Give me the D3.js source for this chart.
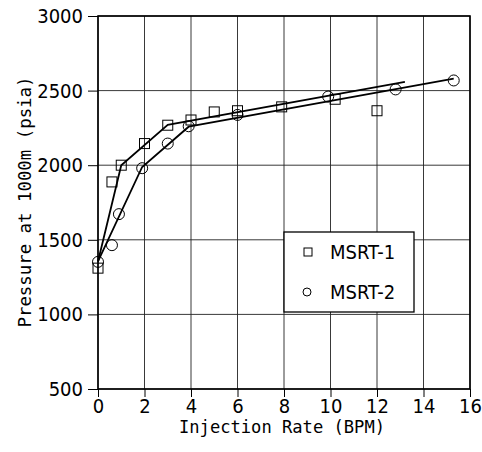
<!DOCTYPE html>
<html>
<head>
<meta charset="utf-8">
<script src="https://cdn.jsdelivr.net/npm/d3@7"></script>
<style>
  html, body { margin: 0; padding: 0; background: #fff; }
  svg { display: block; }
</style>
</head>
<body>
<svg id="chart" width="482" height="452"></svg>
<script>
// Injection rate (BPM) vs. pressure at 1000 m (psia)
const xTicks = [0, 2, 4, 6, 8, 10, 12, 14, 16];
const yTicks = [500, 1000, 1500, 2000, 2500, 3000];

// MSRT-1 measurements
const msrt1Rate     = [0, 0.6, 1.0, 2.0, 3.0, 4.0, 5.0, 6.0, 7.9, 10.2, 12.0];
const msrt1Pressure = [1310, 1888, 2000, 2145, 2268, 2303, 2357, 2365, 2391, 2442, 2365];
// MSRT-2 measurements
const msrt2Rate     = [0, 0.6, 0.9, 1.9, 3.0, 3.9, 6.0, 9.9, 12.8, 15.3];
const msrt2Pressure = [1352, 1464, 1672, 1980, 2145, 2261, 2337, 2460, 2508, 2568];

// Piecewise-linear trend lines
const trend1Rate     = [0, 1.0, 3.0, 13.2];
const trend1Pressure = [1355, 2000, 2270, 2558];
const trend2Rate     = [0, 1.9, 3.9, 15.3];
const trend2Pressure = [1355, 1988, 2258, 2580];

const legendLabels = ["MSRT-1", "MSRT-2"];

const svg = d3.select("#chart");
const margin = { left: 98, right: 12, top: 16, bottom: 63 };
const W = 482, H = 452;

const x = d3.scaleLinear().domain([0, 16]).range([margin.left, W - margin.right]);
const y = d3.scaleLinear().domain([500, 3000]).range([H - margin.bottom, margin.top]);

const tickFont = "'Liberation Sans Narrow', 'DejaVu Sans Condensed', 'Arial Narrow', sans-serif";
const titleFont = "'DejaVu Sans Mono', 'Liberation Mono', monospace";

// Grid
const grid = svg.append("g").attr("stroke", "#222").attr("stroke-width", 0.9);
grid.selectAll("line.v").data(xTicks).join("line")
  .attr("x1", d => x(d)).attr("x2", d => x(d))
  .attr("y1", y(3000)).attr("y2", y(500));
grid.selectAll("line.h").data(yTicks).join("line")
  .attr("x1", x(0)).attr("x2", x(16))
  .attr("y1", d => y(d)).attr("y2", d => y(d));

// Axes
const xAxis = d3.axisBottom(x).tickValues(xTicks).tickSize(8).tickPadding(2).tickFormat(d3.format("d"));
const yAxis = d3.axisLeft(y).tickValues(yTicks).tickSize(10).tickPadding(5).tickFormat(d3.format("d"));

const gx = svg.append("g").attr("transform", `translate(0,${y(500)})`).call(xAxis);
const gy = svg.append("g").attr("transform", `translate(${x(0)},0)`).call(yAxis);
[gx, gy].forEach(g => {
  g.select(".domain").remove();
  g.selectAll(".tick line").attr("stroke", "#000").attr("stroke-width", 1);
  g.selectAll(".tick text").attr("fill", "#000")
    .style("font-family", tickFont).style("font-size", "20px");
});
gx.selectAll(".tick text").attr("dy", "0.72em");

// Frame
svg.append("rect")
  .attr("x", x(0)).attr("y", y(3000))
  .attr("width", x(16) - x(0)).attr("height", y(500) - y(3000))
  .attr("fill", "none").attr("stroke", "#000").attr("stroke-width", 1.6);

// Trend lines
const line = d3.line().x(d => x(d[0])).y(d => y(d[1]));
const trends = [d3.zip(trend1Rate, trend1Pressure), d3.zip(trend2Rate, trend2Pressure)];
svg.append("g").selectAll("path").data(trends).join("path")
  .attr("d", line).attr("fill", "none").attr("stroke", "#000").attr("stroke-width", 1.8);

// Markers
const pts1 = d3.zip(msrt1Rate, msrt1Pressure);
const pts2 = d3.zip(msrt2Rate, msrt2Pressure);
const sq = 10;
svg.append("g").selectAll("rect").data(pts1).join("rect")
  .attr("x", d => x(d[0]) - sq / 2).attr("y", d => y(d[1]) - sq / 2)
  .attr("width", sq).attr("height", sq)
  .attr("fill", "none").attr("stroke", "#000").attr("stroke-width", 1);
svg.append("g").selectAll("circle").data(pts2).join("circle")
  .attr("cx", d => x(d[0])).attr("cy", d => y(d[1])).attr("r", 5.5)
  .attr("fill", "none").attr("stroke", "#000").attr("stroke-width", 1);

// Legend
const lg = svg.append("g").attr("transform", "translate(284,232)");
lg.append("rect").attr("width", 130).attr("height", 80)
  .attr("fill", "#fff").attr("stroke", "#000").attr("stroke-width", 1.3);
legendLabels.forEach((lab, i) => {
  const cy = 20 + i * 40;
  if (i === 0) {
    lg.append("rect").attr("x", 20).attr("y", cy - 4).attr("width", 8).attr("height", 8)
      .attr("fill", "none").attr("stroke", "#000").attr("stroke-width", 1);
  } else {
    lg.append("circle").attr("cx", 23).attr("cy", cy).attr("r", 4)
      .attr("fill", "none").attr("stroke", "#000").attr("stroke-width", 1);
  }
  lg.append("text").attr("x", 46).attr("y", cy).attr("dy", "0.36em")
    .style("font-family", tickFont).style("font-size", "20px").text(lab);
});

// Axis titles
svg.append("text")
  .attr("x", (x(0) + x(16)) / 2 - 2).attr("y", 433)
  .attr("text-anchor", "middle")
  .attr("textLength", 206).attr("lengthAdjust", "spacingAndGlyphs")
  .style("font-family", titleFont).style("font-size", "18px")
  .text("Injection Rate (BPM)");

svg.append("text")
  .attr("transform", "translate(31,202) rotate(-90)")
  .attr("text-anchor", "middle")
  .attr("textLength", 251).attr("lengthAdjust", "spacingAndGlyphs")
  .style("font-family", titleFont).style("font-size", "18px")
  .text("Pressure at 1000m (psia)");
</script>
</body>
</html>
